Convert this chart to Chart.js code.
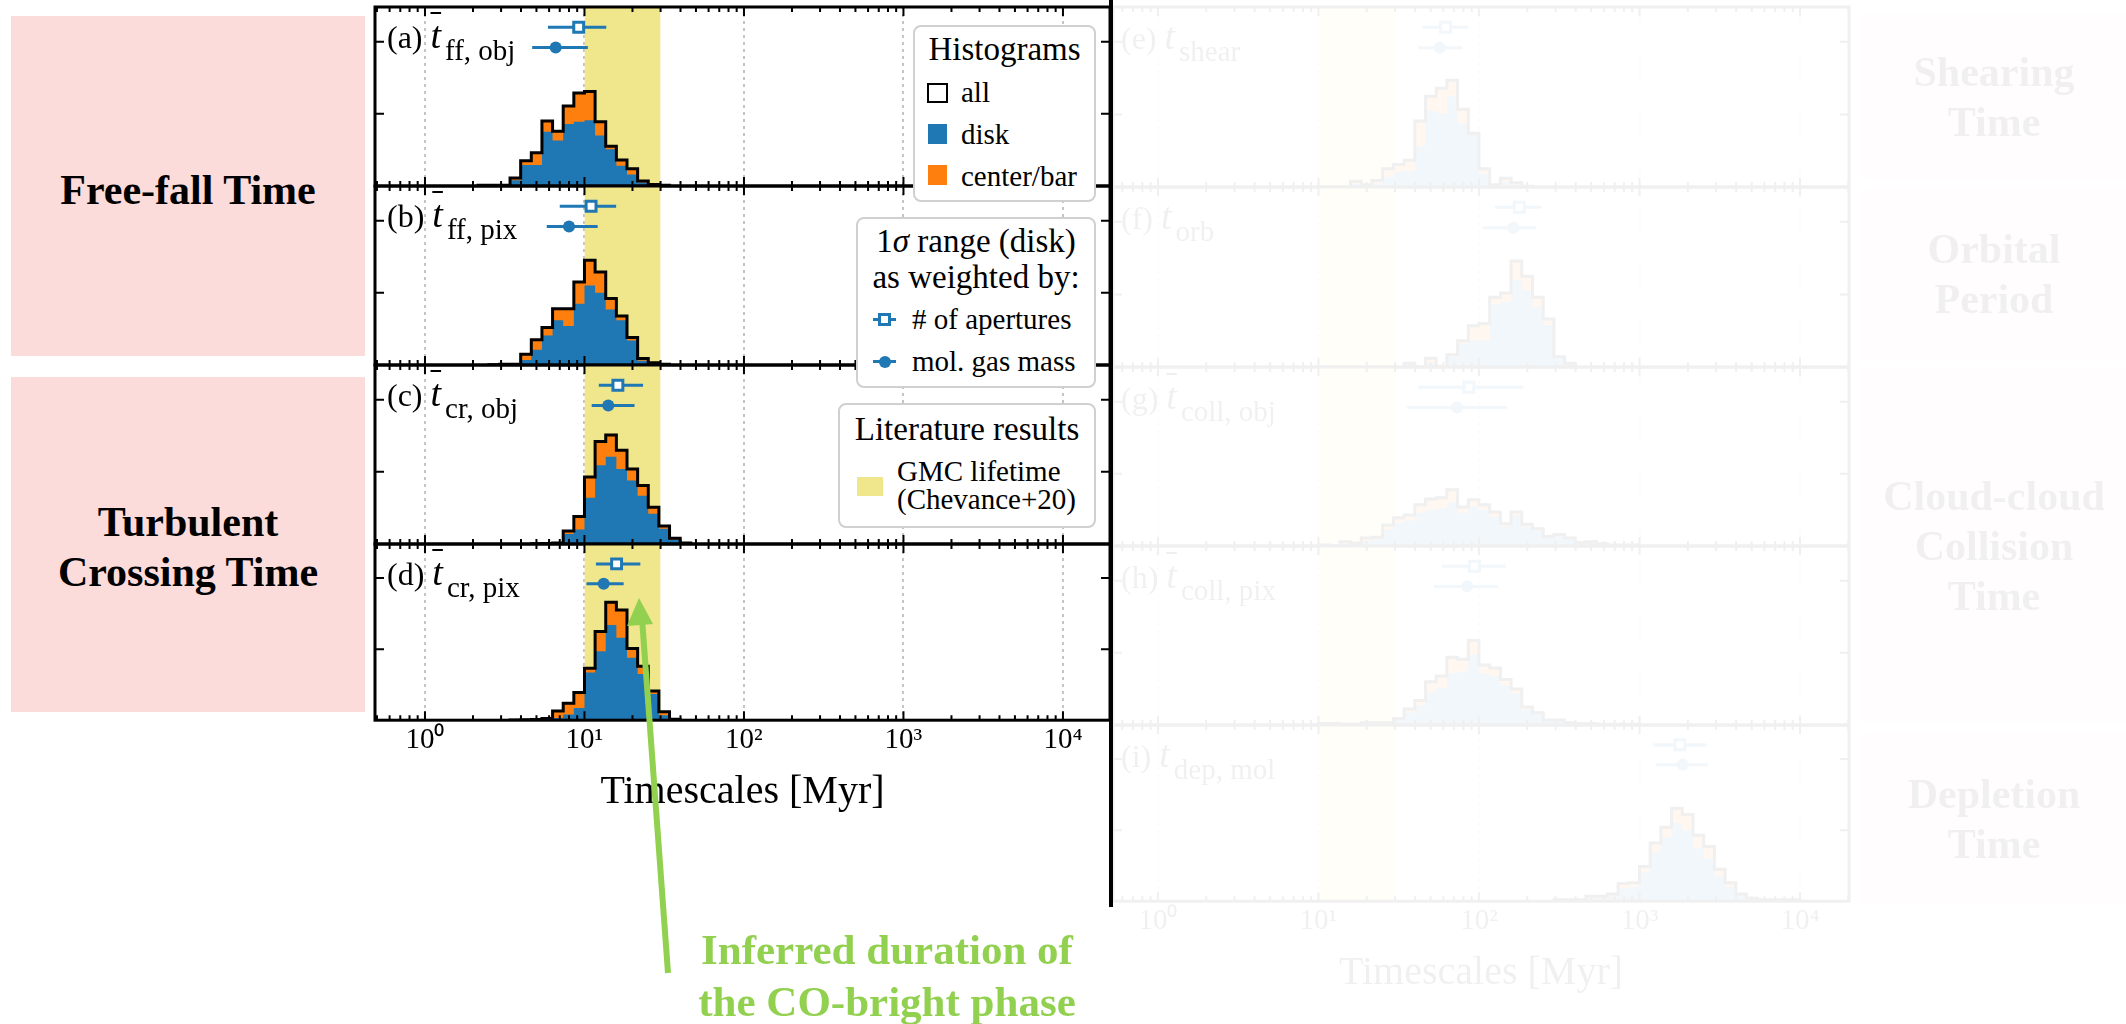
<!DOCTYPE html>
<html>
<head>
<meta charset="utf-8">
<title>Timescale histograms</title>
<script src="https://cdn.jsdelivr.net/npm/chart.js@4.4.1/dist/chart.umd.min.js"></script>
<style>
  body { margin: 0; width: 2126px; height: 1024px; position: relative; overflow: hidden; background: #fff;
         font-family: 'Liberation Serif', 'Times New Roman', serif; color: #000; }
  .abs, canvas { position: absolute; }
  .side { position: absolute; display: flex; align-items: center; justify-content: center; text-align: center;
          font-weight: bold; font-size: 42px; line-height: 50px; background: #fbdcdb; box-sizing: border-box; }
  .plab { position: absolute; font-size: 32px; line-height: 32px; white-space: nowrap; z-index: 2; }
  .plab i { font-size: 38px; }
  .plab i.bar { text-decoration: overline; text-decoration-thickness: 2px; }
  .plab sub { font-size: 29px; vertical-align: baseline; position: relative; top: 12px; margin-left: 4px; }
  .leg { position: absolute; background: #fff; border: 2.5px solid #d0d0d0; border-radius: 8px; box-sizing: border-box; z-index: 3; }
  .leg div { position: absolute; white-space: nowrap; }
  .lt { font-size: 33px; line-height: 33px; left: 0; right: 0; text-align: center; }
  .le { font-size: 29px; line-height: 29px; }
  #faded { position: absolute; left: 0; top: 0; width: 2126px; height: 1024px; opacity: 0.06; }
</style>
</head>
<body>

<div class="side" style="left:11px;top:16px;width:354px;height:340px;padding-top:8px">Free-fall Time</div>
<div class="side" style="left:11px;top:377px;width:354px;height:335px;padding-top:4px">Turbulent<br>Crossing Time</div>

<div id="faded">
  <div class="side" style="left:1862px;top:14px;width:264px;height:166px">Shearing<br>Time</div>
  <div class="side" style="left:1862px;top:189px;width:264px;height:170px">Orbital<br>Period</div>
  <div class="side" style="left:1862px;top:369px;width:264px;height:353px">Cloud-cloud<br>Collision<br>Time</div>
  <div class="side" style="left:1862px;top:732px;width:264px;height:173px">Depletion<br>Time</div>
  <div class="plab" style="left:1121px;top:20px">(e) <i>t</i><sub>shear</sub></div>
  <div class="plab" style="left:1121px;top:200px">(f) <i>t</i><sub>orb</sub></div>
  <div class="plab" style="left:1121px;top:380px">(g) <i class="bar">t</i><sub>coll, obj</sub></div>
  <div class="plab" style="left:1121px;top:559px">(h) <i class="bar">t</i><sub>coll, pix</sub></div>
  <div class="plab" style="left:1121px;top:738px">(i) <i>t</i><sub>dep, mol</sub></div>
</div>

<div class="plab" style="left:387px;top:19px">(a) <i class="bar">t</i><sub>ff, obj</sub></div>
<div class="plab" style="left:387px;top:198px">(b) <i class="bar">t</i><sub>ff, pix</sub></div>
<div class="plab" style="left:387px;top:377px">(c) <i class="bar">t</i><sub>cr, obj</sub></div>
<div class="plab" style="left:387px;top:556px">(d) <i class="bar">t</i><sub>cr, pix</sub></div>

<div class="leg" style="left:913px;top:25px;width:183px;height:177px">
  <div class="lt" style="top:6px">Histograms</div>
  <div style="left:12px;top:56px;width:21px;height:20px;border:2.5px solid #000;box-sizing:border-box;background:#fff"></div>
  <div class="le" style="left:46px;top:51px">all</div>
  <div style="left:13px;top:97px;width:19px;height:20px;background:#1f77b4"></div>
  <div class="le" style="left:46px;top:93px">disk</div>
  <div style="left:13px;top:138px;width:19px;height:20px;background:#ff7f0e"></div>
  <div class="le" style="left:46px;top:135px">center/bar</div>
</div>

<div class="leg" style="left:856px;top:217px;width:240px;height:171px">
  <div class="lt" style="top:6px">1<i>σ</i> range (disk)</div>
  <div class="lt" style="top:42px">as weighted by:</div>
  <div style="left:15px;top:99px;width:23px;height:3px;background:#1f77b4"></div>
  <div style="left:20px;top:94px;width:13px;height:13px;border:3px solid #1f77b4;background:#fff;box-sizing:border-box"></div>
  <div class="le" style="left:54px;top:86px"># of apertures</div>
  <div style="left:15px;top:141px;width:23px;height:3px;background:#1f77b4"></div>
  <div style="left:20.5px;top:136.5px;width:12px;height:12px;border-radius:50%;background:#1f77b4"></div>
  <div class="le" style="left:54px;top:128px">mol. gas mass</div>
</div>

<div class="leg" style="left:838px;top:403px;width:258px;height:125px">
  <div class="lt" style="top:8px">Literature results</div>
  <div style="left:17px;top:72px;width:26px;height:19px;background:#f0e68c"></div>
  <div class="le" style="left:57px;top:52px">GMC lifetime</div>
  <div class="le" style="left:57px;top:80px">(Chevance+20)</div>
</div>

<div class="abs" style="left:1109px;top:0;width:4px;height:907px;background:#000;z-index:2"></div>

<svg class="abs" style="left:0;top:0;z-index:4" width="2126" height="1024">
  <line x1="668" y1="973" x2="642" y2="618" stroke="#92d050" stroke-width="6"/>
  <polygon points="639,598 627,626 653,624" fill="#92d050"/>
</svg>
<div class="abs" style="left:637px;top:924px;width:500px;text-align:center;font-weight:bold;font-size:43px;line-height:52px;color:#92d050">Inferred duration of<br>the CO-bright phase</div>

<script>
const binsPerDecade = 15;
const decades = [1, 10, 100, 1000, 10000];
const tickLabels = ['10⁰', '10¹', '10²', '10³', '10⁴'];
const yTicks = [100, 200];
const gmcLifetime = [10, 30];   // Chevance+20 range, Myr

// histograms: first bin index (in 1/15 dex), then counts per bin; 1-sigma ranges as [low, mid, high] in Myr
// (a) free-fall time, cloud based
const ffObjStart = 5;
const ffObjAll  = [1, 1, 1, 11, 35, 46, 90, 76, 111, 129, 131, 89, 55, 36, 24, 7, 2, 1];
const ffObjDisk = [0.5, 0.5, 1, 8, 29, 29, 75, 63, 86, 89, 91, 70, 51, 28, 16, 5, 1, 0.5];
const ffObjApert = [5.9, 9.2, 13.7];
const ffObjMass  = [4.7, 6.6, 10.5];
// (b) free-fall time, pixel based
const ffPixStart = 6;
const ffPixAll  = [0.5, 1, 1, 15, 35, 52, 78, 78, 115, 145, 129, 92, 68, 38, 9, 3, 1];
const ffPixDisk = [0.3, 0.7, 1, 7, 21, 41, 62, 54, 85, 110, 100, 77, 62, 34, 6, 1.4, 0.5];
const ffPixApert = [7.0, 11.0, 15.8];
const ffPixMass  = [5.8, 8.0, 12.1];
// (c) crossing time, cloud based
const crObjStart = 10;
const crObjAll  = [0.5, 0.7, 1.4, 18, 38, 93, 142, 151, 130, 104, 81, 51, 25, 8, 1.4];
const crObjDisk = [0.3, 0.5, 1, 14, 20, 64, 109, 121, 104, 88, 67, 42, 21, 6, 1];
const crObjApert = [12.3, 16.2, 23.3];
const crObjMass  = [11.1, 14.1, 20.6];
// (d) crossing time, pixel based
const crPixStart = 8;
const crPixAll  = [0.4, 0.7, 1, 2.4, 13, 24, 39, 73, 125, 166, 155, 101, 76, 41, 12, 1.4];
const crPixDisk = [0.3, 0.4, 0.5, 1, 3, 8, 17, 67, 97, 134, 116, 88, 65, 37, 7, 0.7];
const crPixApert = [11.8, 15.9, 22.4];
const crPixMass  = [10.3, 13.2, 17.6];
// (e) shearing time
const shearStart = 18;
const shearAll  = [8, 3, 9, 25, 31, 37, 91, 125, 136, 147, 107, 74, 25, 3, 12, 6, 1];
const shearDisk = [4, 1, 5, 14, 21, 22, 56, 105, 102, 125, 88, 74, 18, 1, 7, 3, 0.5];
const shearApert = [44.6, 62, 85.8];
const shearMass  = [41.9, 57, 79];
// (f) orbital period
const orbStart = 23;
const orbAll  = [5, 0, 12, 1, 17, 36, 57, 60, 96, 102, 146, 125, 96, 66, 14, 5];
const orbDisk = [2, 0, 6, 0.5, 14, 32, 37, 37, 86, 90, 120, 106, 83, 58, 12, 3];
const orbApert = [126, 178, 246];
const orbMass  = [106, 164, 227];
// (g) cloud-cloud collision time, cloud based
const collObjStart = 15;
const collObjAll  = [1.4, 0, 6, 4, 11, 12, 29, 39, 43, 57, 65, 67, 78, 54, 64, 57, 47, 31, 47, 30, 24, 13, 16, 11, 5, 6, 3, 1.4, 1.4, 1.4];
const collObjDisk = [1, 0, 3, 2, 7, 9, 22, 32, 35, 46, 50, 52, 60, 46, 55, 50, 41, 27, 42, 26, 21, 11, 14, 9, 4, 5, 2, 1, 1, 1];
const collObjApert = [41.9, 86.6, 189];
const collObjMass  = [35.7, 73, 149];
// (h) cloud-cloud collision time, pixel based
const collPixStart = 15;
const collPixAll  = [2, 2, 1, 1, 3, 3, 3, 9, 22, 34, 60, 68, 94, 91, 117, 83, 79, 63, 50, 25, 17, 7, 7, 3, 2, 2, 1, 1, 1, 1];
const collPixDisk = [1, 1, 1, 1, 2, 2, 2, 7, 17, 27, 45, 52, 72, 74, 98, 72, 68, 55, 44, 21, 15, 6, 6, 3, 2, 2, 1, 1, 1, 1];
const collPixApert = [58.6, 93.6, 147];
const collPixMass  = [52.5, 84.5, 132];
// (i) molecular gas depletion time
const depStart = 37;
const depAll  = [2, 2, 2, 7, 7, 10, 25, 26, 49, 82, 104, 131, 122, 93, 77, 45, 26, 10, 4, 2, 2, 2, 2];
const depDisk = [1, 1, 1, 4, 4, 6, 18, 20, 40, 70, 90, 110, 100, 75, 60, 35, 20, 8, 3, 2, 2, 2, 2];
const depApert = [1219, 1786, 2618];
const depMass  = [1268, 1857, 2655];

const blue = '#1f77b4';
const orange = '#ff7f0e';
const khaki = '#f0e68c';
const yMax = 248;
const rowApert = 220;
const rowMass = 192;
const axisRoom = 93;

Chart.defaults.font.family = "'Liberation Serif', 'Times New Roman', serif";
Chart.defaults.color = '#000';

const leftAxis = {left: 375, right: 1110, min: 0.486, max: 19724, host: document.body};
const rightAxis = {left: 1113, right: 1849, min: 0.525, max: 20184, host: document.getElementById('faded')};

function histPoints(start, counts) {
  const pts = [{x: 10 ** (start / binsPerDecade), y: 0}];
  counts.forEach((c, i) => pts.push({x: 10 ** ((start + i) / binsPerDecade), y: c}));
  pts.push({x: 10 ** ((start + counts.length) / binsPerDecade), y: 0});
  return pts;
}

const framePlugin = {
  id: 'frame',
  afterDatasetsDraw(chart) {
    const {ctx, chartArea: a, scales: {x, y}} = chart;
    ctx.save();
    ctx.strokeStyle = '#000';
    ctx.lineWidth = 2;
    ctx.beginPath();
    for (let e = -1; e <= 4; e++) {
      for (let m = 1; m <= 9; m++) {
        const v = m * 10 ** e;
        if (v < x.min || v > x.max) continue;
        const px = x.getPixelForValue(v);
        const len = m === 1 ? 9 : 5;
        ctx.moveTo(px, a.bottom);
        ctx.lineTo(px, a.bottom - len);
        ctx.moveTo(px, a.top);
        ctx.lineTo(px, a.top + len);
      }
    }
    yTicks.forEach(v => {
      const py = y.getPixelForValue(v);
      ctx.moveTo(a.left, py);
      ctx.lineTo(a.left + 9, py);
      ctx.moveTo(a.right, py);
      ctx.lineTo(a.right - 9, py);
    });
    ctx.stroke();
    ctx.lineWidth = 3;
    ctx.strokeRect(a.left, a.top, a.right - a.left, a.bottom - a.top);
    ctx.restore();
  },
};

function panelDatasets(p) {
  const none = 'rgba(0,0,0,0)';
  return [
    {data: [{x: p.apert[0], y: rowApert}, {x: p.apert[2], y: rowApert}], borderColor: blue, borderWidth: 3, pointRadius: 0, fill: false, order: 1},
    {data: [{x: p.mass[0], y: rowMass}, {x: p.mass[2], y: rowMass}], borderColor: blue, borderWidth: 3, pointRadius: 0, fill: false, order: 1},
    {data: [{x: p.apert[1], y: rowApert}], showLine: false, pointStyle: 'rect', pointRadius: 7, pointBorderWidth: 3,
      pointBackgroundColor: '#fff', pointBorderColor: blue, order: 0},
    {data: [{x: p.mass[1], y: rowMass}], showLine: false, pointStyle: 'circle', pointRadius: 6, pointBorderWidth: 0,
      pointBackgroundColor: blue, pointBorderColor: blue, order: 0},
    {data: histPoints(p.start, p.all), stepped: true, fill: false, borderColor: '#000', borderWidth: 3, pointRadius: 0, order: 2},
    {data: histPoints(p.start, p.disk), stepped: true, fill: 'origin', backgroundColor: blue, borderColor: none, borderWidth: 0, pointRadius: 0, order: 3},
    {data: histPoints(p.start, p.all), stepped: true, fill: 'origin', backgroundColor: orange, borderColor: none, borderWidth: 0, pointRadius: 0, order: 4},
    {data: [{x: gmcLifetime[0], y: yMax}, {x: gmcLifetime[1], y: yMax}], fill: 'origin', backgroundColor: khaki, borderColor: none, borderWidth: 0, pointRadius: 0, order: 5},
  ];
}

function buildPanel(p, axis) {
  const canvas = document.createElement('canvas');
  canvas.width = axis.right - axis.left + 8;
  canvas.height = p.height + 8 + (p.bottom ? axisRoom : 0);
  canvas.style.left = (axis.left - 4) + 'px';
  canvas.style.top = (p.top - 4) + 'px';
  axis.host.appendChild(canvas);

  new Chart(canvas, {
    type: 'line',
    data: {datasets: panelDatasets(p)},
    options: {
      responsive: false,
      animation: false,
      events: [],
      devicePixelRatio: 1,
      layout: {padding: 4, autoPadding: false},
      plugins: {legend: {display: false}, tooltip: {enabled: false}},
      scales: {
        x: {
          type: 'logarithmic',
          min: axis.min,
          max: axis.max,
          afterBuildTicks: s => { s.ticks = decades.map(v => ({value: v})); },
          grid: {color: '#c4c4c4', lineWidth: 2, drawTicks: false},
          border: {display: false, dash: [3, 4]},
          ticks: p.bottom
            ? {display: true, padding: 3, font: {size: 29}, maxRotation: 0, autoSkip: false, callback: (v, i) => tickLabels[i]}
            : {display: false},
          title: p.bottom
            ? {display: true, text: 'Timescales [Myr]', font: {size: 40}, padding: {top: 7, bottom: 0}}
            : {display: false},
        },
        y: {display: false, min: 0, max: yMax},
      },
    },
    plugins: [framePlugin],
  });
}

const leftPanels = [
  {top: 7, height: 179, start: ffObjStart, all: ffObjAll, disk: ffObjDisk, apert: ffObjApert, mass: ffObjMass},
  {top: 186, height: 179, start: ffPixStart, all: ffPixAll, disk: ffPixDisk, apert: ffPixApert, mass: ffPixMass},
  {top: 365, height: 179, start: crObjStart, all: crObjAll, disk: crObjDisk, apert: crObjApert, mass: crObjMass},
  {top: 544, height: 179, start: crPixStart, all: crPixAll, disk: crPixDisk, apert: crPixApert, mass: crPixMass, bottom: true},
];

const rightPanels = [
  {top: 7, height: 180, start: shearStart, all: shearAll, disk: shearDisk, apert: shearApert, mass: shearMass},
  {top: 187, height: 180, start: orbStart, all: orbAll, disk: orbDisk, apert: orbApert, mass: orbMass},
  {top: 367, height: 179, start: collObjStart, all: collObjAll, disk: collObjDisk, apert: collObjApert, mass: collObjMass},
  {top: 546, height: 179, start: collPixStart, all: collPixAll, disk: collPixDisk, apert: collPixApert, mass: collPixMass},
  {top: 725, height: 179, start: depStart, all: depAll, disk: depDisk, apert: depApert, mass: depMass, bottom: true},
];

leftPanels.forEach(p => buildPanel(p, leftAxis));
rightPanels.forEach(p => buildPanel(p, rightAxis));
</script>
</body>
</html>
